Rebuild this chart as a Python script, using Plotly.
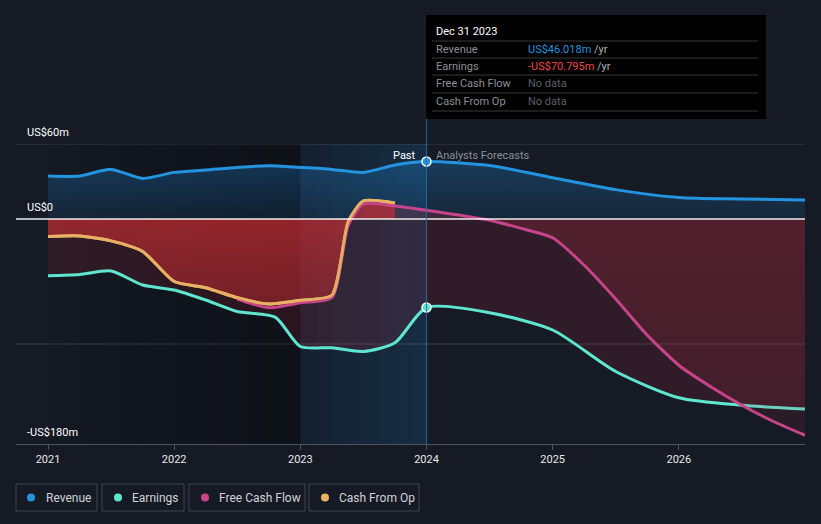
import plotly.graph_objects as go

W, H = 821, 524

# ---------------- data (US$ m, decimal years) ----------------
rev_x = [2021.0, 2021.25, 2021.5, 2021.75, 2022.0, 2022.25, 2022.5, 2022.75, 2023.0, 2023.25, 2023.5, 2023.75, 2024.0,
         2024.5, 2025.0, 2025.5, 2026.0, 2026.5, 2027.0]
rev_y = [34.4, 34.4, 39.7, 32.5, 37.3, 39.2, 41.3, 42.7, 41.3, 39.7, 37.3, 43.2, 46.018,
         42.8, 33.0, 23.5, 17.2, 16.0, 15.2]

earn_x = [2021.0, 2021.25, 2021.5, 2021.75, 2022.0, 2022.25, 2022.5, 2022.8, 2023.0, 2023.25, 2023.5, 2023.75, 2024.0,
          2024.5, 2025.0, 2025.5, 2026.0, 2026.5, 2027.0]
earn_y = [-45.3, -44.3, -41.6, -52.8, -56.8, -64.8, -74.0, -78.5, -102.0, -103.0, -106.0, -99.0, -70.795,
          -75.0, -88.8, -122.0, -143.0, -149.0, -152.0]

fcf_x = [2022.5, 2022.75, 2023.0, 2023.25, 2023.38, 2023.5, 2023.75, 2024.0,
         2024.5, 2024.75, 2025.0, 2025.25, 2025.5, 2025.75, 2026.0, 2026.25, 2026.5, 2026.75, 2027.0]
fcf_y = [-64.0, -71.0, -67.0, -63.0, -5.0, 12.0, 10.4, 7.0,
         -1.0, -7.5, -15.0, -37.0, -64.0, -93.0, -117.0, -134.0, -149.0, -162.0, -173.0]

cfo_x = [2021.0, 2021.25, 2021.5, 2021.75, 2022.0, 2022.25, 2022.5, 2022.75, 2023.0, 2023.25, 2023.38, 2023.5, 2023.75]
cfo_y = [-14.0, -13.5, -17.5, -26.0, -50.0, -55.0, -63.0, -68.0, -65.0, -61.0, -2.0, 14.5, 12.8]

tick_years = [2021, 2022, 2023, 2024, 2025, 2026]
tick_text = ["2021", "2022", "2023", "2024", "2025", "2026"]

C_REV = "#2394df"
C_EARN = "#5ee6d0"
C_FCF = "#c7448b"
C_CFO = "#e8b163"
BG = "#151a24"

# ---------------- geometry helpers ----------------
PX_L, PX_R = 16, 805
PY_T, PY_B = 144, 444
X_MIN = 2021.0 - (48 - PX_L) / 126.15
X_MAX = 2027.0
Y_MIN, Y_MAX = -180, 60


def px(x):
    return x / W


def py(y):
    return 1 - y / H


fig = go.Figure()

# revenue
fig.add_trace(go.Scatter(
    x=rev_x, y=rev_y, mode="lines", line=dict(color=C_REV, width=3, shape="spline", smoothing=0.7),
    fill="tozeroy",
    fillgradient=dict(type="vertical", start=0, stop=60,
                      colorscale=[[0, "rgba(33,150,243,0.10)"], [1, "rgba(33,150,243,0.32)"]]),
    hoverinfo="skip", showlegend=False))

# earnings
fig.add_trace(go.Scatter(
    x=earn_x, y=earn_y, mode="lines", line=dict(color=C_EARN, width=3, shape="spline", smoothing=0.7),
    fill="tozeroy", fillcolor="rgba(190,45,60,0.16)",
    hoverinfo="skip", showlegend=False))

# free cash flow: fill for the forecast part, then the full line
k = fcf_x.index(2023.5)
fig.add_trace(go.Scatter(
    x=fcf_x[k:], y=fcf_y[k:], mode="none", line=dict(shape="spline", smoothing=0.6),
    fill="tozeroy",
    fillgradient=dict(type="vertical", start=-180, stop=0,
                      colorscale=[[0, "rgba(200,45,60,0.10)"], [1, "rgba(200,45,60,0.22)"]]),
    hoverinfo="skip", showlegend=False))

# cash from op
fig.add_trace(go.Scatter(
    x=cfo_x, y=cfo_y, mode="lines", line=dict(color=C_CFO, width=3, shape="spline", smoothing=0.6),
    fill="tozeroy",
    fillgradient=dict(type="vertical", start=-80, stop=0,
                      colorscale=[[0, "rgba(205,45,50,0.42)"], [1, "rgba(205,45,50,0.64)"]]),
    hoverinfo="skip", showlegend=False))

fig.add_trace(go.Scatter(
    x=fcf_x, y=fcf_y, mode="lines", line=dict(color=C_FCF, width=3, shape="spline", smoothing=0.6),
    hoverinfo="skip", showlegend=False))
# redraw cash from op line on top of fcf in past
fig.add_trace(go.Scatter(
    x=cfo_x, y=cfo_y, mode="lines", line=dict(color=C_CFO, width=3, shape="spline", smoothing=0.6),
    opacity=0.92, hoverinfo="skip", showlegend=False))

# highlighted points at Dec 31 2023
fig.add_trace(go.Scatter(
    x=[rev_x[12]], y=[rev_y[12]], mode="markers",
    marker=dict(color=C_REV, size=9, line=dict(color="white", width=1.5)), hoverinfo="skip", showlegend=False))
fig.add_trace(go.Scatter(
    x=[earn_x[12]], y=[earn_y[12]], mode="markers",
    marker=dict(color=C_EARN, size=9, line=dict(color="white", width=1.5)), hoverinfo="skip", showlegend=False))

shapes = []
# past region darkening gradient
n = 14
for i in range(n):
    x0 = 2021.0 + 2.0 * i / n
    x1 = 2021.0 + 2.0 * (i + 1) / n
    shapes.append(dict(type="rect", xref="x", yref="y", x0=x0, x1=x1, y0=Y_MIN, y1=Y_MAX,
                       fillcolor="rgba(0,0,0,%.3f)" % (0.02 + 0.30 * (i + 1) / n), line=dict(width=0), layer="below"))
# 2023-2024 band
for i in range(8):
    x0 = 2023.0 + i / 8
    x1 = 2023.0 + (i + 1) / 8
    shapes.append(dict(type="rect", xref="x", yref="y", x0=x0, x1=x1, y0=Y_MIN, y1=Y_MAX,
                       fillcolor="rgba(30,120,190,%.3f)" % (0.06 + 0.14 * (i + 1) / 8), line=dict(width=0),
                       layer="below"))
# gridlines
for gy in [60, -100]:
    shapes.append(dict(type="line", xref="paper", yref="y", x0=px(PX_L), x1=px(PX_R), y0=gy, y1=gy,
                       line=dict(color="rgba(255,255,255,0.16)", width=1), layer="below"))
# zero line
shapes.append(dict(type="line", xref="paper", yref="y", x0=px(PX_L), x1=px(PX_R), y0=0, y1=0,
                   line=dict(color="rgba(255,255,255,0.92)", width=1.5), layer="above"))
# vertical line at 2024
shapes.append(dict(type="line", xref="x", yref="paper", x0=2024.0, x1=2024.0, y0=py(PY_B), y1=py(15),
                   line=dict(color="rgba(40,110,160,0.8)", width=1.2), layer="above"))
# tooltip box
shapes.append(dict(type="rect", xref="paper", yref="paper", x0=px(426), x1=px(766), y0=py(119), y1=py(15),
                   fillcolor="#000000", line=dict(width=0), layer="above"))
for ly in [41, 58, 75, 93, 111]:
    shapes.append(dict(type="line", xref="paper", yref="paper", x0=px(432), x1=px(758), y0=py(ly), y1=py(ly),
                       line=dict(color="rgba(255,255,255,0.22)", width=1), layer="above"))

annotations = []
FONT = "Roboto, Noto Sans, sans-serif"


def txt(x, y, s, color, size=11, anchor="left"):
    annotations.append(dict(xref="paper", yref="paper", x=px(x), y=py(y), text=s, showarrow=False,
                            xanchor=anchor, yanchor="middle", font=dict(color=color, size=size, family=FONT)))


txt(434, 31, "Dec 31 2023", "#ffffff", 11)
rows = [
    ("Revenue", "<span style='color:#2394df'>US$46.018m</span> /yr"),
    ("Earnings", "<span style='color:#f0474b'>-US$70.795m</span> /yr"),
    ("Free Cash Flow", "<span style='color:#5c6068'>No data</span>"),
    ("Cash From Op", "<span style='color:#5c6068'>No data</span>"),
]
for i, (lab, val) in enumerate(rows):
    yy = 49 + i * 17.4
    txt(434, yy, lab, "#8c9097", 11)
    txt(526, yy, val, "#b0b3b8", 11)

# y labels
txt(25, 132, "US$60m", "#ffffff", 11)
txt(25, 207, "US$0", "#ffffff", 11)
txt(25, 432, "-US$180m", "#ffffff", 11)

# past / forecast
txt(418, 156, "Past", "#ffffff", 11, anchor="right")
txt(434, 156, "Analysts Forecasts", "#8a8f98", 11)

# legend
legend_items = [
    ("Revenue", C_REV, 16, 97, 31, 44),
    ("Earnings", C_EARN, 102, 184, 118, 130),
    ("Free Cash Flow", C_FCF, 189, 305, 205, 217),
    ("Cash From Op", C_CFO, 309, 419, 325, 337),
]
for name, col, bx0, bx1, cx, tx in legend_items:
    shapes.append(dict(type="rect", xref="paper", yref="paper", x0=px(bx0), x1=px(bx1), y0=py(511), y1=py(484),
                       line=dict(color="rgba(255,255,255,0.18)", width=1), fillcolor="rgba(0,0,0,0)"))
    shapes.append(dict(type="circle", xref="paper", yref="paper", x0=px(cx - 4), x1=px(cx + 4), y0=py(501.5),
                       y1=py(493.5), fillcolor=col, line=dict(width=0)))
    txt(tx, 497.5, name, "#d0d2d6", 12)

fig.update_layout(
    width=W, height=H, paper_bgcolor=BG, plot_bgcolor=BG,
    margin=dict(l=0, r=0, t=0, b=0),
    shapes=shapes, annotations=annotations, showlegend=False, hovermode=False,
    xaxis=dict(domain=[px(PX_L), px(PX_R)], range=[X_MIN, X_MAX], showgrid=False, zeroline=False,
               tickvals=tick_years, ticktext=tick_text, ticks="outside", ticklen=5, tickcolor="rgba(255,255,255,0.25)",
               showline=True, linecolor="rgba(255,255,255,0.25)", linewidth=1,
               tickfont=dict(color="#e8e8e8", size=11, family=FONT), fixedrange=True),
    yaxis=dict(domain=[py(PY_B), py(PY_T)], range=[Y_MIN, Y_MAX], showgrid=False, zeroline=False,
               showticklabels=False, fixedrange=True),
)

fig.write_html("out.html", config={"displayModeBar": False},
               post_script="document.body.style.margin='0';document.body.style.background='%s';" % BG)
